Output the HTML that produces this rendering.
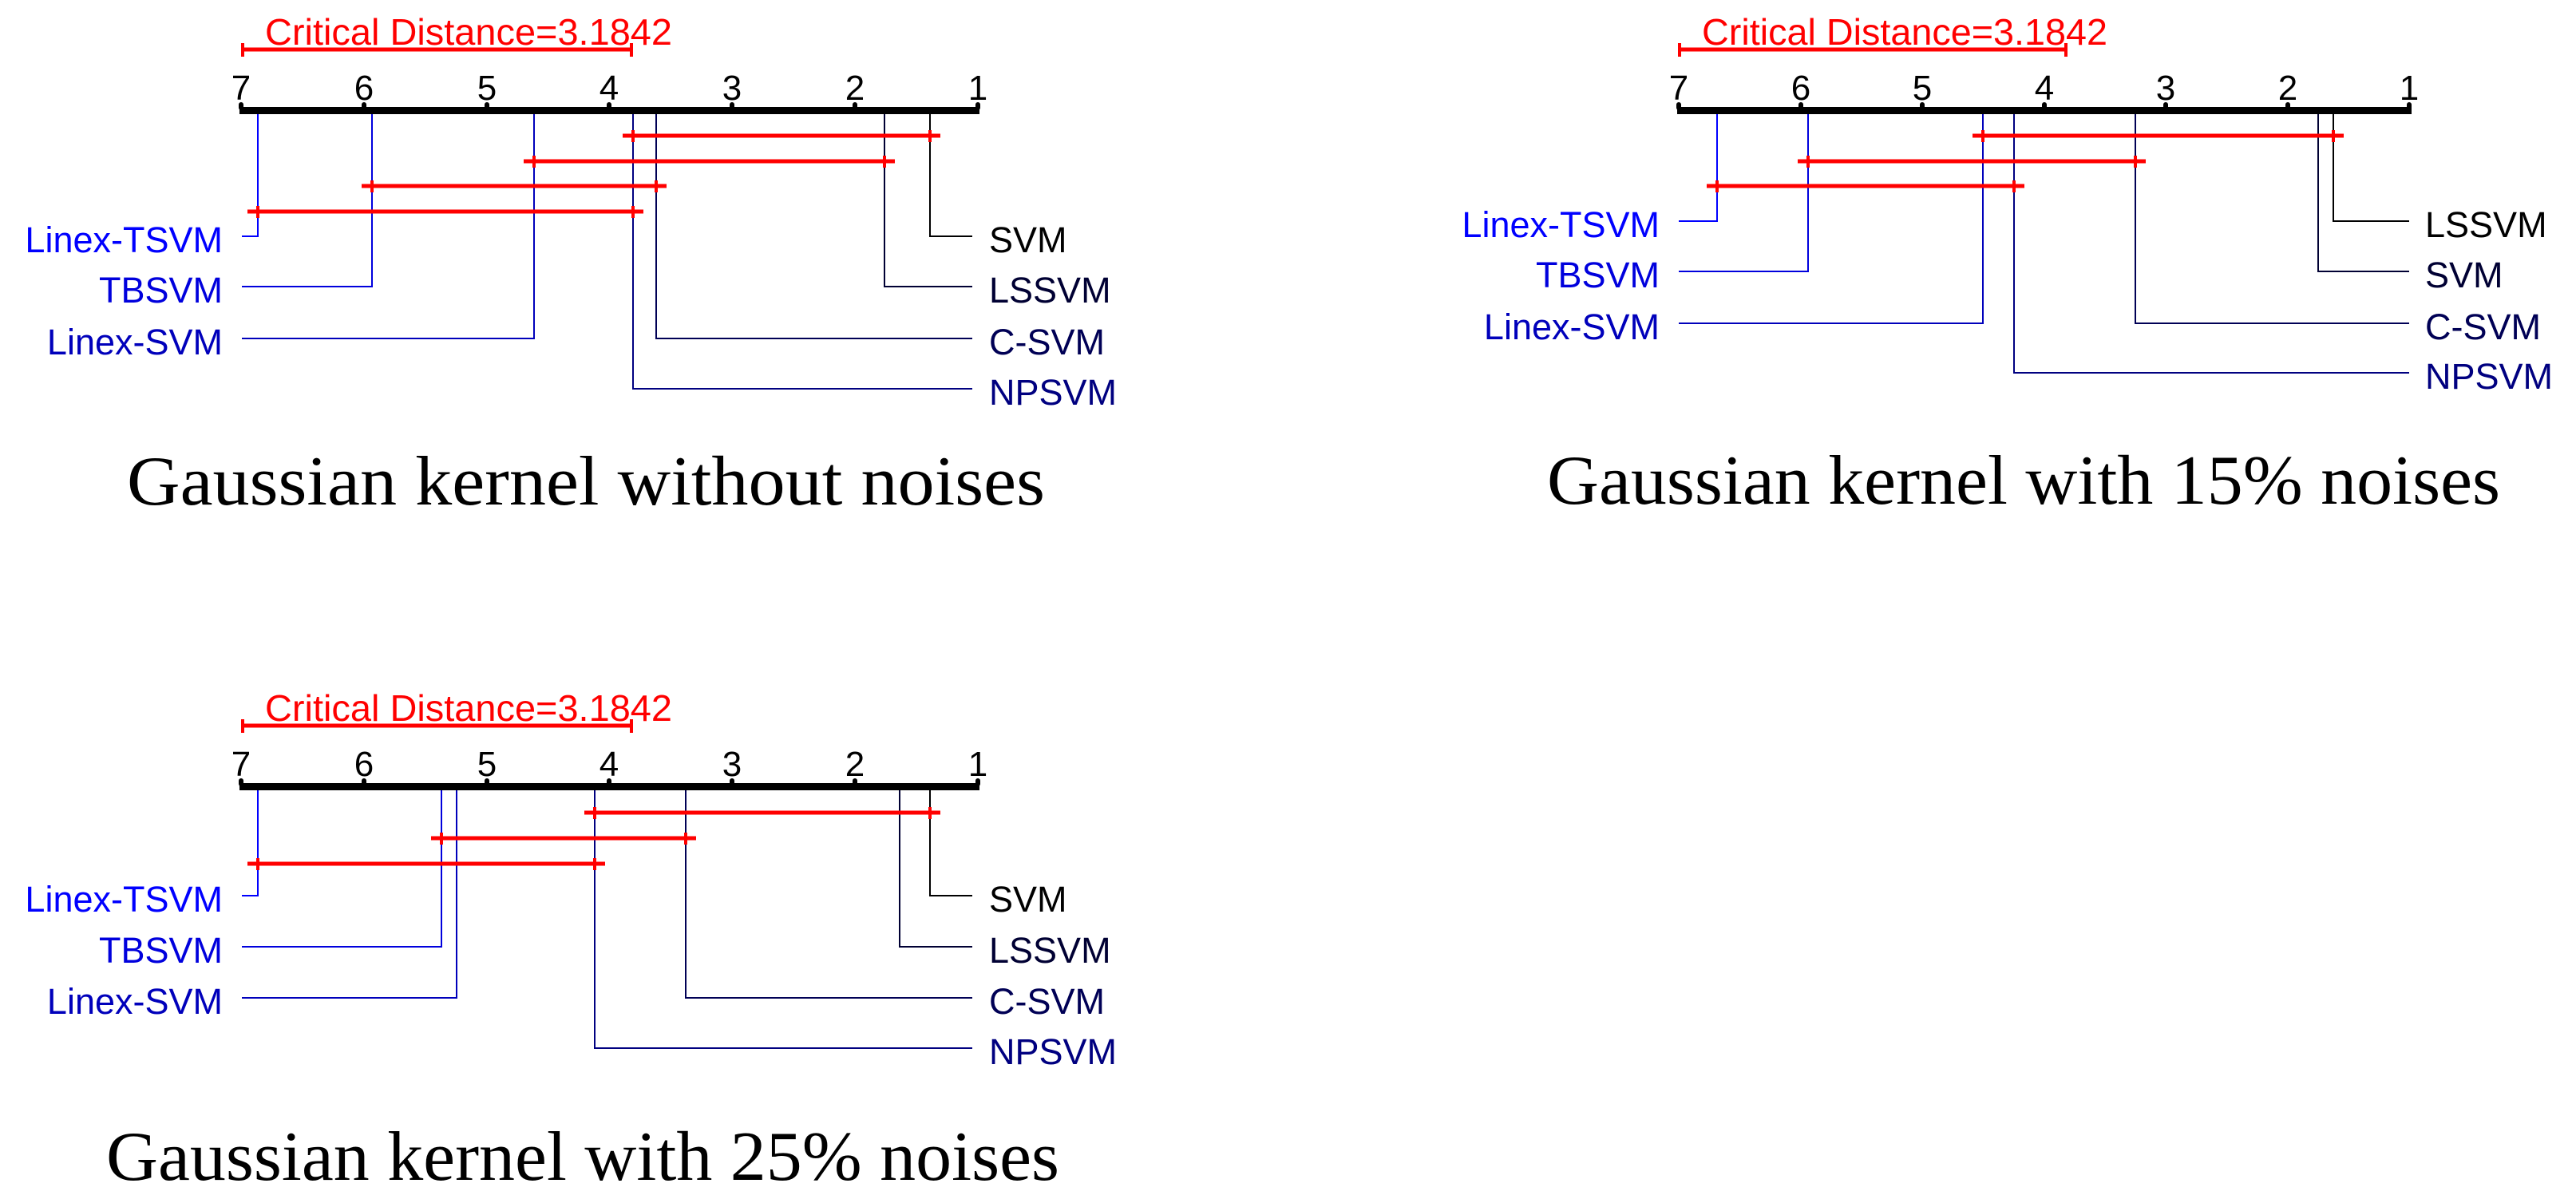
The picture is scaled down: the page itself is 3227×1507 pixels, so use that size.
<!DOCTYPE html>
<html><head><meta charset="utf-8"><style>
html,body{margin:0;padding:0;background:#fff;}
svg{display:block;}
.t{font-family:"Liberation Sans",Arial,sans-serif;font-size:45px;}
.cd{font-family:"Liberation Sans",Arial,sans-serif;font-size:46px;fill:#ff0000;}
.tk{font-family:"Liberation Sans",Arial,sans-serif;font-size:44px;fill:#000;text-anchor:middle;}
.ti{font-family:"Liberation Serif","Times New Roman",serif;font-size:88px;fill:#000;}
.r{stroke:#ff0000;stroke-width:5;}
.rt{stroke:#ff0000;stroke-width:4;}
</style></head><body>
<svg width="3227" height="1507" viewBox="0 0 3227 1507" xmlns="http://www.w3.org/2000/svg">
<rect width="3227" height="1507" fill="#fff"/>

<!-- Panel 1 -->
<g>
<text class="cd" x="332" y="56" textLength="510" lengthAdjust="spacingAndGlyphs">Critical Distance=3.1842</text>
<line class="r" x1="303" y1="62" x2="792" y2="62"/>
<line class="rt" x1="304" y1="54" x2="304" y2="71"/><line class="rt" x1="791" y1="54" x2="791" y2="71"/>
<g class="tk"><text x="302" y="125">7</text><text x="456" y="125">6</text><text x="610" y="125">5</text><text x="763" y="125">4</text><text x="917" y="125">3</text><text x="1071" y="125">2</text><text x="1225" y="125">1</text></g>
<rect x="300" y="134" width="927" height="9" fill="#000"/>
<g fill="#000"><rect x="299" y="128" width="6" height="10" rx="3"/><rect x="453" y="128" width="6" height="10" rx="3"/><rect x="607" y="128" width="6" height="10" rx="3"/><rect x="760" y="128" width="6" height="10" rx="3"/><rect x="914" y="128" width="6" height="10" rx="3"/><rect x="1068" y="128" width="6" height="10" rx="3"/><rect x="1222" y="128" width="6" height="10" rx="3"/></g>
<g fill="none" stroke-width="2">
<polyline stroke="#0000ff" points="323,143 323,296 303,296"/>
<polyline stroke="#0000dd" points="466,143 466,359 303,359"/>
<polyline stroke="#0000bb" points="669,143 669,424 303,424"/>
<polyline stroke="#000080" points="793,143 793,487 1218,487"/>
<polyline stroke="#000055" points="822,143 822,424 1218,424"/>
<polyline stroke="#000033" points="1108,143 1108,359 1218,359"/>
<polyline stroke="#000000" points="1165,143 1165,296 1218,296"/>
</g>
<line class="r" x1="780" y1="170" x2="1178" y2="170"/><line class="rt" x1="793" y1="163" x2="793" y2="178"/><line class="rt" x1="1165" y1="163" x2="1165" y2="178"/>
<line class="r" x1="656" y1="202" x2="1121" y2="202"/><line class="rt" x1="669" y1="195" x2="669" y2="210"/><line class="rt" x1="1108" y1="195" x2="1108" y2="210"/>
<line class="r" x1="453" y1="233" x2="835" y2="233"/><line class="rt" x1="466" y1="226" x2="466" y2="241"/><line class="rt" x1="822" y1="226" x2="822" y2="241"/>
<line class="r" x1="310" y1="265" x2="806" y2="265"/><line class="rt" x1="323" y1="258" x2="323" y2="273"/><line class="rt" x1="793" y1="258" x2="793" y2="273"/>
<g class="t" text-anchor="end"><text x="279" y="316" fill="#0000ff">Linex-TSVM</text><text x="279" y="379" fill="#0000dd">TBSVM</text><text x="279" y="444" fill="#0000bb">Linex-SVM</text></g>
<g class="t"><text x="1239" y="316" fill="#000">SVM</text><text x="1239" y="379" fill="#000033">LSSVM</text><text x="1239" y="444" fill="#000055">C-SVM</text><text x="1239" y="507" fill="#000080">NPSVM</text></g>
<text class="ti" x="159" y="632" textLength="1150" lengthAdjust="spacingAndGlyphs">Gaussian kernel without noises</text>
</g>

<!-- Panel 2 -->
<g>
<text class="cd" x="2132" y="56" textLength="508" lengthAdjust="spacingAndGlyphs">Critical Distance=3.1842</text>
<line class="r" x1="2103" y1="62" x2="2589" y2="62"/>
<line class="rt" x1="2104" y1="54" x2="2104" y2="71"/><line class="rt" x1="2588" y1="54" x2="2588" y2="71"/>
<g class="tk"><text x="2103" y="125">7</text><text x="2256" y="125">6</text><text x="2408" y="125">5</text><text x="2561" y="125">4</text><text x="2713" y="125">3</text><text x="2866" y="125">2</text><text x="3018" y="125">1</text></g>
<rect x="2101" y="134" width="920" height="9" fill="#000"/>
<g fill="#000"><rect x="2100" y="128" width="6" height="10" rx="3"/><rect x="2253" y="128" width="6" height="10" rx="3"/><rect x="2405" y="128" width="6" height="10" rx="3"/><rect x="2558" y="128" width="6" height="10" rx="3"/><rect x="2710" y="128" width="6" height="10" rx="3"/><rect x="2863" y="128" width="6" height="10" rx="3"/><rect x="3015" y="128" width="6" height="10" rx="3"/></g>
<g fill="none" stroke-width="2">
<polyline stroke="#0000ff" points="2151,143 2151,277 2103,277"/>
<polyline stroke="#0000dd" points="2265,143 2265,340 2103,340"/>
<polyline stroke="#0000bb" points="2484,143 2484,405 2103,405"/>
<polyline stroke="#000080" points="2523,143 2523,467 3018,467"/>
<polyline stroke="#000055" points="2675,143 2675,405 3018,405"/>
<polyline stroke="#000033" points="2904,143 2904,340 3018,340"/>
<polyline stroke="#000000" points="2923,143 2923,277 3018,277"/>
</g>
<line class="r" x1="2471" y1="170" x2="2936" y2="170"/><line class="rt" x1="2484" y1="163" x2="2484" y2="178"/><line class="rt" x1="2923" y1="163" x2="2923" y2="178"/>
<line class="r" x1="2252" y1="202" x2="2688" y2="202"/><line class="rt" x1="2265" y1="195" x2="2265" y2="210"/><line class="rt" x1="2675" y1="195" x2="2675" y2="210"/>
<line class="r" x1="2138" y1="233" x2="2536" y2="233"/><line class="rt" x1="2151" y1="226" x2="2151" y2="241"/><line class="rt" x1="2523" y1="226" x2="2523" y2="241"/>
<g class="t" text-anchor="end"><text x="2079" y="297" fill="#0000ff">Linex-TSVM</text><text x="2079" y="360" fill="#0000dd">TBSVM</text><text x="2079" y="425" fill="#0000bb">Linex-SVM</text></g>
<g class="t"><text x="3038" y="297" fill="#000">LSSVM</text><text x="3038" y="360" fill="#000033">SVM</text><text x="3038" y="425" fill="#000055">C-SVM</text><text x="3038" y="487" fill="#000080">NPSVM</text></g>
<text class="ti" x="1938" y="631" textLength="1194" lengthAdjust="spacingAndGlyphs">Gaussian kernel with 15% noises</text>
</g>

<!-- Panel 3 -->
<g>
<text class="cd" x="332" y="903" textLength="510" lengthAdjust="spacingAndGlyphs">Critical Distance=3.1842</text>
<line class="r" x1="303" y1="909" x2="792" y2="909"/>
<line class="rt" x1="304" y1="901" x2="304" y2="918"/><line class="rt" x1="791" y1="901" x2="791" y2="918"/>
<g class="tk"><text x="302" y="972">7</text><text x="456" y="972">6</text><text x="610" y="972">5</text><text x="763" y="972">4</text><text x="917" y="972">3</text><text x="1071" y="972">2</text><text x="1225" y="972">1</text></g>
<rect x="300" y="981" width="927" height="9" fill="#000"/>
<g fill="#000"><rect x="299" y="975" width="6" height="10" rx="3"/><rect x="453" y="975" width="6" height="10" rx="3"/><rect x="607" y="975" width="6" height="10" rx="3"/><rect x="760" y="975" width="6" height="10" rx="3"/><rect x="914" y="975" width="6" height="10" rx="3"/><rect x="1068" y="975" width="6" height="10" rx="3"/><rect x="1222" y="975" width="6" height="10" rx="3"/></g>
<g fill="none" stroke-width="2">
<polyline stroke="#0000ff" points="323,990 323,1122 303,1122"/>
<polyline stroke="#0000dd" points="553,990 553,1186 303,1186"/>
<polyline stroke="#0000bb" points="572,990 572,1250 303,1250"/>
<polyline stroke="#000080" points="745,990 745,1313 1218,1313"/>
<polyline stroke="#000055" points="859,990 859,1250 1218,1250"/>
<polyline stroke="#000033" points="1127,990 1127,1186 1218,1186"/>
<polyline stroke="#000000" points="1165,990 1165,1122 1218,1122"/>
</g>
<line class="r" x1="732" y1="1018" x2="1178" y2="1018"/><line class="rt" x1="745" y1="1011" x2="745" y2="1026"/><line class="rt" x1="1165" y1="1011" x2="1165" y2="1026"/>
<line class="r" x1="540" y1="1050" x2="872" y2="1050"/><line class="rt" x1="553" y1="1043" x2="553" y2="1058"/><line class="rt" x1="859" y1="1043" x2="859" y2="1058"/>
<line class="r" x1="310" y1="1082" x2="758" y2="1082"/><line class="rt" x1="323" y1="1075" x2="323" y2="1090"/><line class="rt" x1="745" y1="1075" x2="745" y2="1090"/>
<g class="t" text-anchor="end"><text x="279" y="1142" fill="#0000ff">Linex-TSVM</text><text x="279" y="1206" fill="#0000dd">TBSVM</text><text x="279" y="1270" fill="#0000bb">Linex-SVM</text></g>
<g class="t"><text x="1239" y="1142" fill="#000">SVM</text><text x="1239" y="1206" fill="#000033">LSSVM</text><text x="1239" y="1270" fill="#000055">C-SVM</text><text x="1239" y="1333" fill="#000080">NPSVM</text></g>
<text class="ti" x="133" y="1478" textLength="1194" lengthAdjust="spacingAndGlyphs">Gaussian kernel with 25% noises</text>
</g>
</svg>
</body></html>
